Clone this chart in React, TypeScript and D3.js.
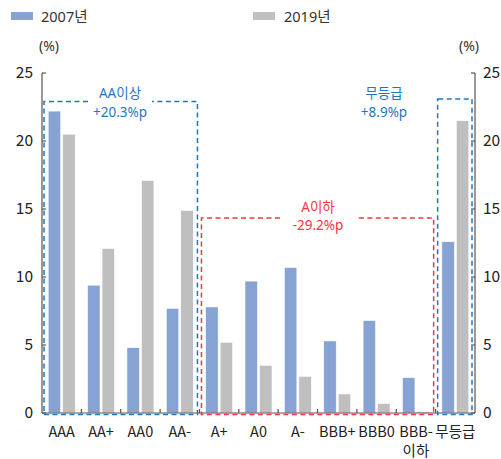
import React from "react";
import * as d3 from "d3";

const categories = ["AAA", "AA+", "AA0", "AA-", "A+", "A0", "A-", "BBB+", "BBB0", "BBB-\n이하", "무등급"];
const series2007 = [22.2, 9.4, 4.8, 7.7, 7.8, 9.7, 10.7, 5.3, 6.8, 2.6, 12.6];
const series2019 = [20.5, 12.1, 17.1, 14.9, 5.2, 3.5, 2.7, 1.4, 0.7, 0.1, 21.5];
const yTicks = [0, 5, 10, 15, 20, 25];
const seriesNames = ["2007년", "2019년"];

const W = 501, H = 459;
const X0 = 42, X1 = 475, Y0 = 413, Y1 = 73;
const BLUE = "#87A3D3", GRAY = "#BFBFBF", DBLUE = "#1F77C4", RED = "#F8343C";
const NUMFONT = "'Liberation Sans Narrow', 'Arial Narrow', 'Noto Sans CJK KR', sans-serif";
const KFONT = "'Noto Sans', 'Noto Sans CJK KR', sans-serif";

export default function App() {
  const x = d3.scaleBand<number>().domain(d3.range(categories.length)).range([X0, X1]);
  const y = d3.scaleLinear().domain([0, 25]).range([Y0, Y1]);
  const bw = 12.5;
  const gap = 2;

  const boxLeft = (i: number) => x(i)! + 2;
  const boxRight = (i: number) => x(i)! + x.bandwidth() - 2;

  const dashedBox = (l: number, r: number, t: number, b: number, gl: number, gr: number, color: string) => (
    <g fill="none" stroke={color} strokeWidth={1.5} strokeDasharray="5,3.5">
      <path d={`M${gl},${t}H${l}V${b}H${r}V${t}H${gr}`} />
    </g>
  );

  return (
    <svg width={W} height={H} style={{ position: "absolute", left: 0, top: 0, background: "#fff" }}>
      {/* legend */}
      <rect x={11} y={12} width={22} height={8} fill={BLUE} />
      <text x={41} y={22} fontFamily={KFONT} fontSize={14.5} fill="#333">{seriesNames[0]}</text>
      <rect x={253} y={12} width={22} height={8} fill={GRAY} />
      <text x={284} y={22} fontFamily={KFONT} fontSize={14.5} fill="#333">{seriesNames[1]}</text>

      {/* unit labels */}
      <text x={49} y={51} textAnchor="middle" fontFamily={KFONT} fontSize={14} fill="#333">(%)</text>
      <text x={469} y={51} textAnchor="middle" fontFamily={KFONT} fontSize={14} fill="#333">(%)</text>

      {/* bars */}
      {categories.map((c, i) => {
        const cx = x(i)! + x.bandwidth() / 2;
        return (
          <g key={c}>
            <rect x={cx - gap / 2 - bw} y={y(series2007[i])} width={bw} height={Y0 - y(series2007[i])} fill={BLUE} stroke="#fff" strokeWidth={0.6} />
            <rect x={cx + gap / 2} y={y(series2019[i])} width={bw} height={Y0 - y(series2019[i])} fill={GRAY} stroke="#fff" strokeWidth={0.6} />
          </g>
        );
      })}

      {/* axes */}
      <g stroke="#555" strokeWidth={1.2} fill="none">
        <line x1={X0} y1={Y1} x2={X0} y2={Y0} />
        <line x1={X1} y1={Y1} x2={X1} y2={Y0} />
        <line x1={X0} y1={Y0} x2={X1} y2={Y0} />
        {yTicks.map(t => (
          <g key={t}>
            <line x1={X0} x2={X0 + 4} y1={y(t)} y2={y(t)} />
            <line x1={X1} x2={X1 - 4} y1={y(t)} y2={y(t)} />
          </g>
        ))}
        {d3.range(1, categories.length).map(i => (
          <line key={i} x1={x(i)!} x2={x(i)!} y1={Y0} y2={Y0 - 4} />
        ))}
      </g>
      {yTicks.map(t => (
        <g key={t} fontFamily={NUMFONT} fontSize={15.5} fill="#222">
          <text x={33} y={y(t) + 5} textAnchor="end">{t}</text>
          <text x={483} y={y(t) + 5} textAnchor="start">{t}</text>
        </g>
      ))}

      {/* x labels */}
      {categories.map((c, i) => {
        const cx = x(i)! + x.bandwidth() / 2;
        const lines = c.split("\n");
        return (
          <text key={c} x={cx} textAnchor="middle" fontFamily={NUMFONT} fontSize={14.5} fill="#222">
            {lines.map((l, k) => (
              <tspan key={k} x={cx} y={437 + k * 19}>{l}</tspan>
            ))}
          </text>
        );
      })}

      {/* dashed boxes */}
      {dashedBox(boxLeft(0), boxRight(3), 101.5, 414.5, 88, 152, DBLUE)}
      {dashedBox(boxLeft(4), boxRight(9), 218, 414.5, 280, 357, RED)}
      {dashedBox(boxLeft(10), boxRight(10) - 1, 99, 414.5, 440.5, 440.5, DBLUE)}

      {/* annotations */}
      <g fontFamily={KFONT} fontSize={13.5} textAnchor="middle" fill={DBLUE}>
        <text x={120} y={98}>AA이상</text>
        <text x={120} y={117}>+20.3%p</text>
        <text x={384} y={98}>무등급</text>
        <text x={384} y={117}>+8.9%p</text>
      </g>
      <g fontFamily={KFONT} fontSize={13.5} textAnchor="middle" fill={RED}>
        <text x={318} y={212}>A이하</text>
        <text x={318} y={230}>-29.2%p</text>
      </g>
    </svg>
  );
}
